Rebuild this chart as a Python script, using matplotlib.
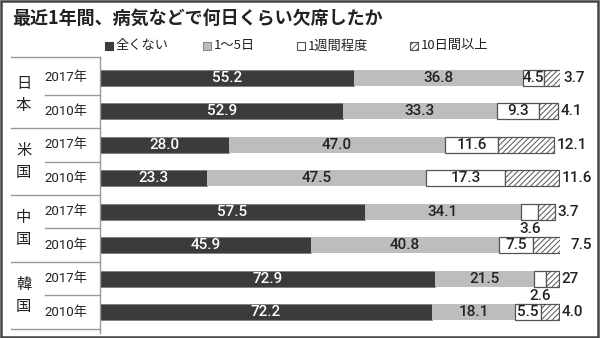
import matplotlib
matplotlib.use("Agg")
import matplotlib.pyplot as plt
from matplotlib.patches import Rectangle
import numpy as np

plt.rcParams['font.family'] = ['Noto Sans CJK JP', 'DejaVu Sans']
plt.rcParams['hatch.linewidth'] = 0.7

# data: share of students by days absent (%)
countries = ['日本', '米国', '中国', '韓国']
years = ['2017年', '2010年']
none_ = [55.2, 52.9, 28.0, 23.3, 57.5, 45.9, 72.9, 72.2]
days1_5 = [36.8, 33.3, 47.0, 47.5, 34.1, 40.8, 21.5, 18.1]
week1 = [4.5, 9.3, 11.6, 17.3, 3.6, 7.5, 2.6, 5.5]
days10 = [3.7, 4.1, 12.1, 11.6, 3.7, 7.5, 2.7, 4.0]
days10_text = ['3.7', '4.1', '12.1', '11.6', '3.7', '7.5', '27', '4.0']
legend_labels = ['全くない', '1～5日', '1週間程度', '10日間以上']

DARK = '#3b3b3b'
GREY = '#bdbdbd'
EDGE = '#555555'
LINE = '#9a9a9a'
NUMFONT = ['Roboto', 'Noto Sans CJK JP']

W, H = 600, 338
fig = plt.figure(figsize=(W / 100, H / 100), dpi=100)

# pixel-space overlay for frame, title, legend
bg = fig.add_axes([0, 0, 1, 1])
bg.set_xlim(0, W)
bg.set_ylim(H, 0)
bg.axis('off')
bg.add_patch(Rectangle((1, 1), W - 3, H - 2, fill=False, ec='#444444', lw=1.8))
bg.text(12, 18, '最近1年間、病気などで何日くらい欠席したか', fontsize=13,
        fontweight='bold', va='center', ha='left', color='#222222')

leg_x = [105, 203, 297, 410]
leg_style = [dict(fc=DARK, ec=DARK), dict(fc=GREY, ec='#888888'),
             dict(fc='white', ec=EDGE), dict(fc='white', ec=EDGE, hatch='//////')]
for x, lab, st in zip(leg_x, legend_labels, leg_style):
    bg.add_patch(Rectangle((x, 42), 8, 8, lw=0.8, **st))
    bg.text(x + 11, 46, lab, fontsize=9.5, va='center', ha='left', color='#222222')

# bar area: 0..100 % spans x=100..560 px
ax = fig.add_axes([100 / W, 1 - 333 / H, 460 / W, 276 / H])
ax.set_xlim(0, 100)
ax.set_ylim(7.62, -0.62)
ax.axis('off')

y = np.arange(len(none_))
h = 0.48
left = np.zeros(len(y))
ax.barh(y, none_, left=left, height=h, color=DARK, edgecolor='#777777', lw=0.5)
left += none_
ax.barh(y, days1_5, left=left, height=h, color=GREY, lw=0)
left += days1_5
ax.barh(y, week1, left=left, height=h, color='white', edgecolor=EDGE, lw=0.9)
left += week1
ax.barh(y, days10, left=left, height=h, color='white', edgecolor=EDGE, lw=0.9,
        hatch='//////')

num = dict(fontsize=11, va='center', family=NUMFONT, fontweight='medium')
for i in y:
    ax.text(none_[i] / 2, i, f'{none_[i]:.1f}', color='white', ha='center', **num)
    ax.text(none_[i] + days1_5[i] / 2, i, f'{days1_5[i]:.1f}', color='#222222',
            ha='center', **num)
    wx = none_[i] + days1_5[i] + week1[i] / 2
    wy = i if week1[i] >= 4 else i + 0.52
    ax.text(wx, wy, f'{week1[i]:.1f}', color='#222222', ha='center', **num)
    end = none_[i] + days1_5[i] + week1[i] + days10[i]
    ax.text(end + 0.6, i, days10_text[i], color='#222222', ha='left', **num)

# left-hand table with country / year labels
x_out, x_mid = -19.3, -12.0
kw = dict(color=LINE, lw=1, clip_on=False)
ax.plot([0, 0], [-0.62, 7.62], **kw)
ax.plot([x_out, 0], [-0.62, -0.62], **kw)
for g, name in enumerate(countries):
    top = 2 * g - 0.5
    ax.plot([x_out, 0], [top + 2, top + 2], **kw)
    ax.plot([x_mid, 0], [top + 1, top + 1], **kw)
    for k, ch in enumerate(name):
        ax.text(-16.6, 2 * g + 0.5 + (k - 0.5) * 0.68, ch, fontsize=11,
                ha='center', va='center', color='#222222')
    for k, yr in enumerate(years):
        ax.text(-7.4, 2 * g + k, yr, fontsize=9.5, ha='center', va='center',
                color='#222222', family=NUMFONT)

fig.savefig('out.png', dpi=100)
